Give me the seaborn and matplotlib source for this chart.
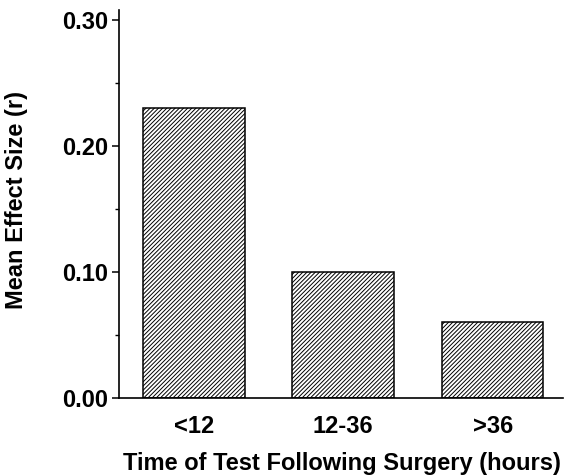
import numpy as np
import pandas as pd
import matplotlib
matplotlib.use("Agg")
import matplotlib.pyplot as plt
from matplotlib.ticker import MultipleLocator, FormatStrFormatter
import seaborn as sns

#%% data

time_groups = ["<12", "12-36", ">36"]
effect_size = [0.23, 0.10, 0.06]

df = pd.DataFrame({"Time": time_groups, "Effect": effect_size})

#%% style

sns.set_style("ticks")
plt.rcParams["font.family"] = ["Liberation Sans", "DejaVu Sans"]
plt.rcParams["font.weight"] = "bold"
plt.rcParams["hatch.linewidth"] = 0.7
plt.rcParams["text.color"] = "black"
plt.rcParams["axes.labelcolor"] = "black"

fig = plt.figure(figsize=(5.64, 4.75), dpi=100)
ax = fig.add_axes([0.211, 0.162, 0.787, 0.817])

sns.barplot(data=df, x="Time", y="Effect", ax=ax, color="white", saturation=1,
            edgecolor="black", linewidth=1.1, hatch="////////", width=0.68)

ax.set_xlim(-0.5, 2.47)
ax.set_ylim(0, 0.308)
ax.yaxis.set_major_locator(MultipleLocator(0.10))
ax.yaxis.set_minor_locator(MultipleLocator(0.05))
ax.yaxis.set_major_formatter(FormatStrFormatter("%.2f"))

sns.despine(ax=ax)
for s in ["left", "bottom"]:
    ax.spines[s].set_linewidth(1.2)
    ax.spines[s].set_color("black")

ax.tick_params(axis="y", which="major", length=5, width=1.1, pad=3, labelsize=17, colors="black")
ax.tick_params(axis="y", which="minor", length=3, width=1.0, colors="black")
ax.tick_params(axis="x", length=0, pad=12, labelsize=17, colors="black")

ax.set_xlabel("Time of Test Following Surgery (hours)", fontsize=17, fontweight="bold", color="black")
ax.set_ylabel("Mean Effect Size (r)", fontsize=17, fontweight="bold", color="black")
ax.xaxis.set_label_coords(0.503, -0.139)
ax.yaxis.set_label_coords(-0.205, 0.51)

fig.savefig("out.png", dpi=100)
